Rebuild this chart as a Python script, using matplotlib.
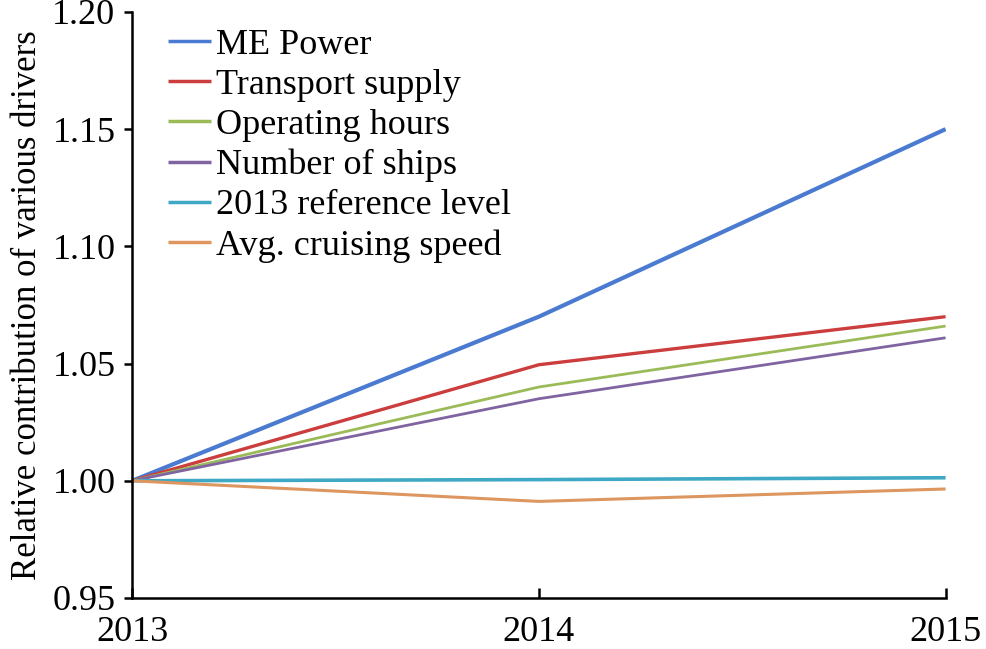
import matplotlib
matplotlib.use("Agg")
import matplotlib.pyplot as plt

years = [2013, 2014, 2015]
me_power = [1.000, 1.070, 1.150]
transport_supply = [1.000, 1.0495, 1.070]
operating_hours = [1.000, 1.040, 1.066]
number_of_ships = [1.000, 1.035, 1.061]
reference_level = [1.000, 1.0005, 1.0013]
cruising_speed = [1.000, 0.9912, 0.9965]

series = [
    ("ME Power", me_power, "#4a7bd0", 3.0),
    ("Transport supply", transport_supply, "#cc3d3d", 2.4),
    ("Operating hours", operating_hours, "#9bbb59", 2.0),
    ("Number of ships", number_of_ships, "#8064a2", 2.0),
    ("2013 reference level", reference_level, "#3fa9c5", 2.6),
    ("Avg. cruising speed", cruising_speed, "#dd965f", 2.2),
]

plt.rcParams['font.family'] = ['Liberation Serif', 'DejaVu Serif']

fig = plt.figure(figsize=(9.86, 6.49), dpi=100)
ax = fig.add_axes([0.134, 0.0786, 0.825, 0.903])

for name, vals, color, lw in series:
    ax.plot(years, vals, color=color, lw=lw, label=name, solid_capstyle='butt')

ax.set_xlim(2013, 2015)
ax.set_ylim(0.95, 1.20)
ax.set_xticks(years)
ax.set_xticklabels([str(y) for y in years])
ax.set_yticks([0.95, 1.00, 1.05, 1.10, 1.15, 1.20])
ax.set_yticklabels(["0.95", "1.00", "1.05", "1.10", "1.15", "1.20"])
ax.spines['top'].set_visible(False)
ax.spines['right'].set_visible(False)
for s in ['left', 'bottom']:
    ax.spines[s].set_linewidth(1.8)
ax.tick_params(axis='y', direction='out', length=6, width=1.8, labelsize=26, pad=6)
ax.tick_params(axis='x', direction='in', length=7, width=1.8, labelsize=26, pad=13)
ax.set_ylabel("Relative contribution of various drivers", fontsize=25, labelpad=6)

leg = ax.legend(loc='upper left', bbox_to_anchor=(0.044, 0.972), frameon=False,
                fontsize=26, handlelength=1.2, handletextpad=0.12,
                labelspacing=0.19, borderaxespad=0.0, borderpad=0.0)
for h in leg.get_lines():
    h.set_linewidth(2.5)

fig.savefig("out.png", dpi=100)
